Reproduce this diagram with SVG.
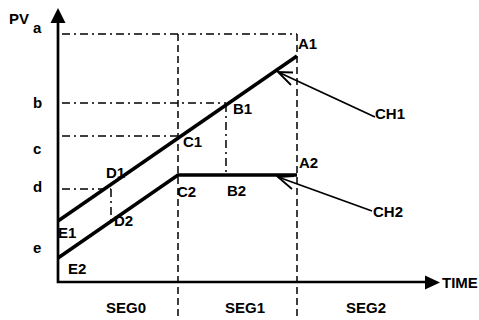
<svg xmlns="http://www.w3.org/2000/svg" width="479" height="320" viewBox="0 0 479 320">
<style>
text{font-family:"Liberation Sans",Arial,sans-serif;font-weight:bold;font-size:15px;fill:#000}
.ax{stroke:#000;stroke-width:2.7;fill:none}
.ch{stroke:#000;stroke-width:3.5;fill:none;stroke-linejoin:miter}
.dd{stroke:#000;stroke-width:1.5;fill:none;stroke-dasharray:8,4,2,4}
.da{stroke:#000;stroke-width:1.5;fill:none;stroke-dasharray:7,4}
.pt{stroke:#000;stroke-width:1.8;fill:none}
</style>
<rect width="479" height="320" fill="#fff"/>
<g id="axes">
<path class="ax" d="M58,20 V282 H428"/>
<polygon points="58,8 50.5,23 65.5,23" fill="#000"/>
<polygon points="440,282.5 425,275.5 425,289.5" fill="#000"/>
</g>
<g id="guides">
<path class="dd" d="M62,34 H297"/>
<path class="dd" d="M62,103 H226"/>
<path class="dd" d="M62,136 H178"/>
<path class="dd" d="M62,189 H111"/>
<path class="dd" d="M226,104 V175"/>
<path class="dd" d="M111,189 V220"/>
<path class="da" d="M178,34 V320"/>
<path class="da" d="M297,34 V320"/>
</g>
<g id="CH1-line"><path class="ch" d="M58,221 L297,56"/></g>
<g id="CH2-line"><path class="ch" d="M58,258 L178,175 H297"/></g>
<g id="connectors">
<path class="pt" d="M375,117 L278,72"/>
<path class="pt" d="M293,72.5 L278,72 L291,85"/>
<path class="pt" d="M372,211 L278,177"/>
<path class="pt" d="M294,176 L278,177 L292,189"/>
</g>
<g id="labels">
<text x="9" y="24">PV</text>
<text x="33" y="33">a</text>
<text x="33" y="108">b</text>
<text x="33" y="154">c</text>
<text x="33" y="192">d</text>
<text x="33" y="253">e</text>
<text x="58" y="238">E1</text>
<text x="68" y="274">E2</text>
<text x="106" y="178">D1</text>
<text x="114" y="226">D2</text>
<text x="183" y="147">C1</text>
<text x="177" y="197">C2</text>
<text x="233" y="114">B1</text>
<text x="227" y="196">B2</text>
<text x="298" y="49">A1</text>
<text x="299" y="168">A2</text>
<text x="375" y="119">CH1</text>
<text x="373" y="217">CH2</text>
<text x="442" y="288">TIME</text>
<text x="106" y="313">SEG0</text>
<text x="225" y="313">SEG1</text>
<text x="346" y="313">SEG2</text>
</g>
</svg>
